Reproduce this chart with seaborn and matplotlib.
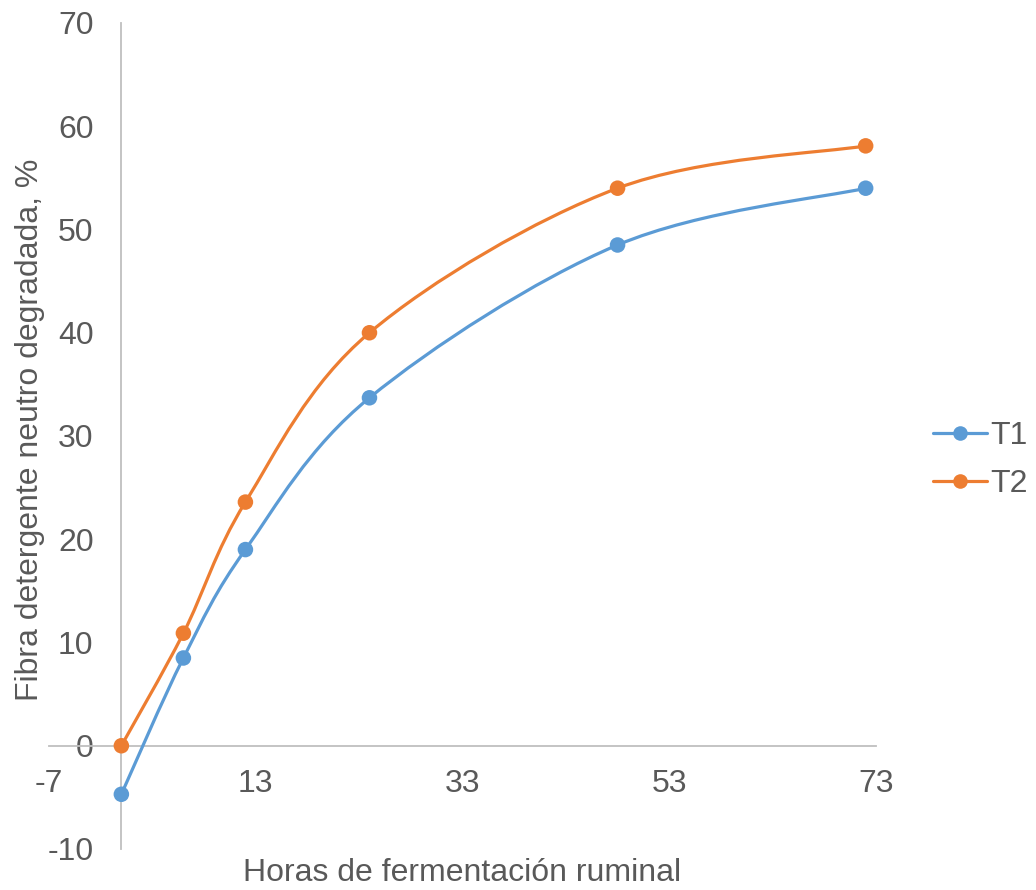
import numpy as np
import pandas as pd
import seaborn as sns
import matplotlib.pyplot as plt
from matplotlib.path import Path
from matplotlib.patches import PathPatch
from matplotlib.lines import Line2D

# data
horas = [0, 6, 12, 24, 48, 72]
t1 = [-4.7, 8.5, 19.0, 33.7, 48.5, 54.0]
t2 = [0.0, 10.9, 23.6, 40.0, 54.0, 58.1]
series_names = ["T1", "T2"]
x_ticks = [-7, 13, 33, 53, 73]
y_ticks = [-10, 0, 10, 20, 30, 40, 50, 60, 70]

colors = {"T1": "#5B9BD5", "T2": "#ED7D31"}
text_color = "#595959"
axis_color = "#BFBFBF"


def smooth_path(xs, ys):
    # Bezier segments through the points (Excel-like smoothed line)
    pts = np.column_stack([xs, ys]).astype(float)
    n = len(pts)
    verts = [pts[0]]
    codes = [Path.MOVETO]
    for i in range(n - 1):
        p0 = pts[i - 1] if i > 0 else pts[i]
        p1 = pts[i]
        p2 = pts[i + 1]
        p3 = pts[i + 2] if i + 2 < n else pts[i + 1]
        c1 = p1 + (p2 - p0) / 6.0
        c2 = p2 - (p3 - p1) / 6.0
        verts += [c1, c2, p2]
        codes += [Path.CURVE4] * 3
    return Path(verts, codes)


df = pd.DataFrame({
    "horas": horas * 2,
    "valor": t1 + t2,
    "serie": ["T1"] * len(horas) + ["T2"] * len(horas),
})

sns.set_style("white")
plt.rcParams["font.family"] = ["Liberation Sans", "DejaVu Sans"]
plt.rcParams["axes.unicode_minus"] = False

fs = 23
lw = 2.3

fig = plt.figure(figsize=(10.36, 8.9), dpi=100)
ax = fig.add_axes([49 / 1036, 41 / 890, 827 / 1036, 826 / 890])

for name, vals in zip(series_names, [t1, t2]):
    patch = PathPatch(smooth_path(horas, vals), facecolor="none",
                      edgecolor=colors[name], lw=lw, zorder=3,
                      capstyle="round")
    ax.add_patch(patch)

sns.scatterplot(data=df, x="horas", y="valor", hue="serie", palette=colors,
                s=125, edgecolor="none", legend=False, ax=ax, zorder=4)

ax.set_xlim(-7, 73)
ax.set_ylim(-10, 70)
ax.set_xticks(x_ticks)
ax.set_yticks(y_ticks)
ax.tick_params(axis="both", length=0, labelsize=fs, colors=text_color)
ax.tick_params(axis="y", pad=20)
ax.tick_params(axis="x", pad=17)

for s in ["top", "right"]:
    ax.spines[s].set_visible(False)
ax.spines["left"].set_position(("data", 0))
ax.spines["bottom"].set_position(("data", 0))
for s in ["left", "bottom"]:
    ax.spines[s].set_color(axis_color)
    ax.spines[s].set_linewidth(1.3)

ax.set_xlabel("")
ax.set_ylabel("")
fig.text(462 / 1036, 1 - 873 / 890, "Horas de fermentación ruminal",
         ha="center", va="center", fontsize=fs, color=text_color)
fig.text(30 / 1036, 1 - 430 / 890, "Fibra detergente neutro degradada, %",
         ha="center", va="center", rotation=90, fontsize=fs, color=text_color)

handles = [Line2D([0], [0], color=colors[n], lw=lw, marker="o",
                  markersize=10.5, markeredgewidth=0) for n in series_names]
leg = fig.legend(handles, series_names, loc="center left",
                 bbox_to_anchor=(933 / 1036, 1 - 460 / 890), frameon=False,
                 fontsize=fs, handlelength=1.7, handletextpad=0.1,
                 labelspacing=0.55, labelcolor=text_color,
                 borderaxespad=0, borderpad=0)

fig.savefig("out.png", dpi=100)
